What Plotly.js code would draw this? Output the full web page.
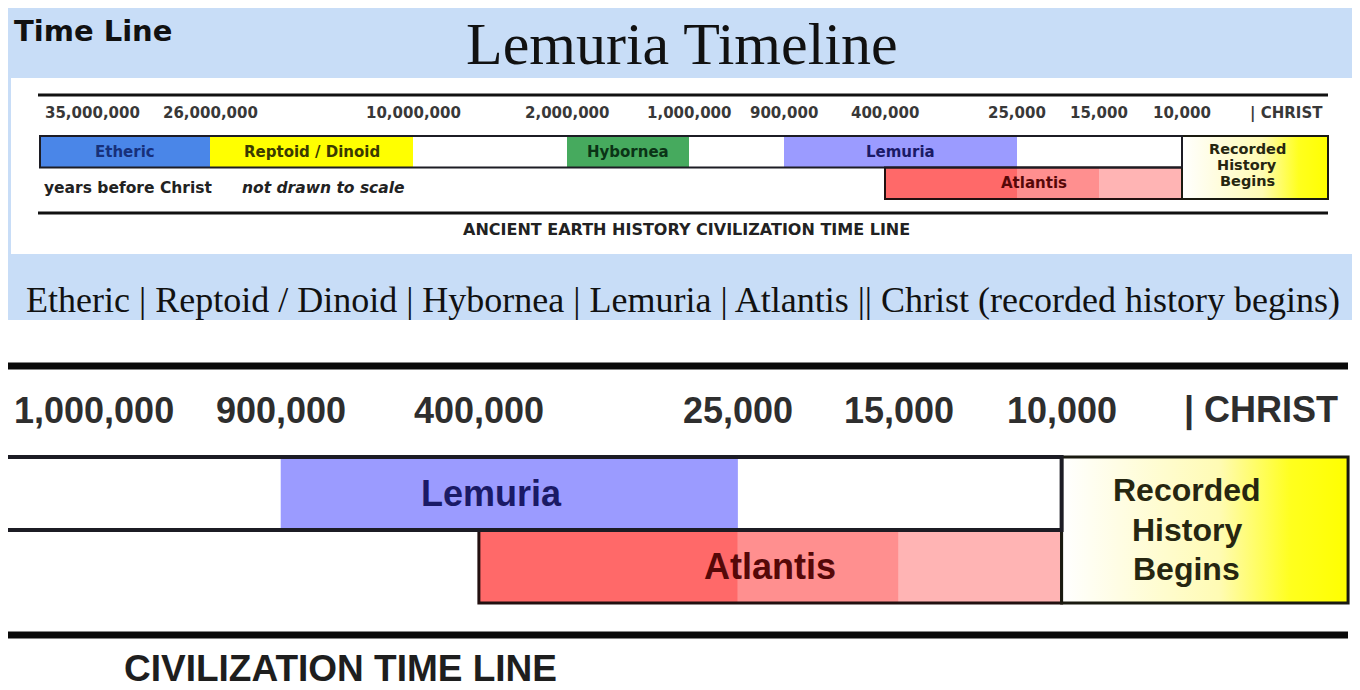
<!DOCTYPE html>
<html>
<head>
<meta charset="utf-8">
<script src="https://cdn.plot.ly/plotly-3.0.1.min.js"></script>
<style>html,body{margin:0;padding:0;background:#fff;overflow:hidden}#chart{width:1360px;height:690px}</style>
</head>
<body>
<div id="chart"></div>
<script>
// ================= DATA =================
const milestones = ['35,000,000','26,000,000','10,000,000','2,000,000','1,000,000','900,000','400,000','25,000','15,000','10,000','CHRIST'];
const eras       = ['Etheric','Reptoid / Dinoid','Hybornea','Lemuria','Atlantis','Recorded History Begins'];
const eraStart   = ['35,000,000','26,000,000','2,000,000','900,000','400,000','10,000'];
const eraEnd     = ['26,000,000','10,000,000','1,000,000','25,000','10,000','CHRIST'];
const eraLaneFrom = [1,1,1,1,2,1];
const eraLaneTo   = [1,1,1,1,2,2];
const atlantisPhaseEdges = ['400,000','25,000','15,000','10,000'];
const captionParts = ['Etheric','Reptoid / Dinoid','Hybornea','Lemuria','Atlantis','Christ (recorded history begins)'];

// ================= LAYOUT / STYLE =================
const W = 1360, H = 690;
const px = x => x / W, py = y => 1 - y / H;
// slot positions of each milestone along the (not-to-scale) time axis
const slotPos = [0,170,373,527,649,744,845,977,1059,1142,1288];
const pos = m => slotPos[milestones.indexOf(m)];
const mIdx = m => milestones.indexOf(m);

const eraColors     = ['#4a86e8','#ffff00','#46aa5e','#9b9bff',null,null];
const eraTextColors = ['#17307a','#3a3a00','#0b3316','#1a1a66','#560808','#262610'];
const phaseColors   = ['#ff6969','#ff8f8f','#ffb4b4'];
const recordedScale = [[0,'#ffffff'],[0.2,'#fffde4'],[0.55,'#fffbb4'],[0.8,'#ffff1e'],[1,'#ffff00']];

const panels = [
  { xa:'x', ya:'y', xaxis:'xaxis', yaxis:'yaxis',
    xrange:[-5,1293], xdom:[35,1333], yrange:[2.6,0.4], ydom:[132.85,202.15],
    fam:'DejaVu Sans, Verdana, sans-serif', tickSize:15, tickY:113, firstTick:0,
    tickColor:'#383838', labelSize:15, recSize:14.5, recY:[149,165,181], recShift:-8,
    trackW:2, outlineW:2 },
  { xa:'x2', ya:'y2', xaxis:'xaxis2', yaxis:'yaxis2',
    xrange:[605,1290], xdom:[8,1352], yrange:[2.6,0.4], ydom:[449.7,610.3],
    fam:'Liberation Sans, Arial, sans-serif', tickSize:36, tickY:410, firstTick:4,
    tickColor:'#2e2e2e', labelSize:36, recSize:32, recY:[490,530,569], recShift:-18,
    trackW:4, outlineW:3 }
];

const traces = [];
const shapes = [];
const annotations = [];

// page frame
shapes.push({type:'rect', xref:'paper', yref:'paper', x0:px(8), x1:px(1352), y0:py(320), y1:py(8),
  fillcolor:'#c8ddf7', line:{width:0}, layer:'below'});
shapes.push({type:'rect', xref:'paper', yref:'paper', x0:px(11), x1:px(1352), y0:py(254), y1:py(78),
  fillcolor:'#ffffff', line:{width:0}, layer:'below'});
[95,213].forEach(y => shapes.push({type:'line', xref:'paper', yref:'paper', x0:px(38), x1:px(1328),
  y0:py(y), y1:py(y), line:{color:'#111', width:3}, layer:'below'}));
[366,635].forEach(y => shapes.push({type:'line', xref:'paper', yref:'paper', x0:px(8), x1:px(1348),
  y0:py(y), y1:py(y), line:{color:'#0a0a0a', width:7}, layer:'below'}));

const layoutAxes = {};
panels.forEach(p => {
  layoutAxes[p.xaxis] = {domain:[px(p.xdom[0]), px(p.xdom[1])], range:p.xrange, visible:false, fixedrange:true, anchor:p.ya};
  layoutAxes[p.yaxis] = {domain:[py(p.ydom[1]), py(p.ydom[0])], range:p.yrange, visible:false, fixedrange:true, anchor:p.xa};

  // single-lane era bars (each panel shows the eras that begin at or after its first milestone)
  const idx = [0,1,2,3].filter(i => mIdx(eraStart[i]) >= p.firstTick);
  traces.push({type:'bar', orientation:'h', xaxis:p.xa, yaxis:p.ya,
    y: idx.map(i => eraLaneFrom[i]), base: idx.map(i => pos(eraStart[i])),
    x: idx.map(i => pos(eraEnd[i]) - pos(eraStart[i])), width: idx.map(() => 1),
    marker:{color: idx.map(i => eraColors[i]), line:{width:0}}, hoverinfo:'skip', showlegend:false});

  // Atlantis phases
  const ph = [0,1,2];
  traces.push({type:'bar', orientation:'h', xaxis:p.xa, yaxis:p.ya,
    y: ph.map(() => eraLaneFrom[4]), base: ph.map(k => pos(atlantisPhaseEdges[k])),
    x: ph.map(k => pos(atlantisPhaseEdges[k+1]) - pos(atlantisPhaseEdges[k])), width: ph.map(() => 1),
    marker:{color: phaseColors, line:{width:0}}, hoverinfo:'skip', showlegend:false});
  // Atlantis outline
  traces.push({type:'bar', orientation:'h', xaxis:p.xa, yaxis:p.ya,
    y:[eraLaneFrom[4]], base:[pos(eraStart[4])], x:[pos(eraEnd[4]) - pos(eraStart[4])], width:[1],
    marker:{color:'rgba(0,0,0,0)', line:{color:'#221010', width:p.outlineW}}, hoverinfo:'skip', showlegend:false});

  // Recorded history box with gradient
  const rs = pos(eraStart[5]), re = pos(eraEnd[5]);
  const ly0 = eraLaneFrom[5] - 0.5, ly1 = eraLaneTo[5] + 0.5;
  traces.push({type:'scatter', mode:'lines', xaxis:p.xa, yaxis:p.ya,
    x:[rs, re, re, rs, rs], y:[ly0, ly0, ly1, ly1, ly0], fill:'toself',
    fillgradient:{type:'horizontal', colorscale:recordedScale},
    line:{color:'#1a1a10', width:p.outlineW}, hoverinfo:'skip', showlegend:false});

  // lane-1 track outline (from first milestone to start of recorded history)
  shapes.push({type:'rect', xref:p.xa, yref:p.ya, x0:pos(milestones[0]), x1:pos(eraStart[5]),
    y0:0.5, y1:1.5, line:{color:'#1c1c24', width:p.trackW}, fillcolor:'rgba(0,0,0,0)', layer:'above'});

  // milestone labels
  for (let i = p.firstTick; i < milestones.length; i++) {
    const last = i === milestones.length - 1;
    const first = i === 0;
    annotations.push({xref:p.xa, yref:'paper', x:pos(milestones[i]), y:py(p.tickY),
      text:'<b>' + (last ? '| ' + milestones[i] : milestones[i]) + '</b>', showarrow:false,
      xanchor: first ? 'left' : (last ? 'right' : 'center'), yanchor:'middle',
      xshift: first ? 3 : (last ? (p.xa === 'x' ? -3 : -8) : 0),
      font:{family:p.fam, size:p.tickSize, color:p.tickColor}});
  }

  // era labels
  for (let i = 0; i < 5; i++) {
    if (mIdx(eraStart[i]) < p.firstTick) continue;
    const c = (pos(eraStart[i]) + pos(eraEnd[i])) / 2;
    annotations.push({xref:p.xa, yref:p.ya, x:c, y:eraLaneFrom[i], text:'<b>' + eras[i] + '</b>',
      showarrow:false, xanchor:'center', yanchor:'middle', xshift: (p.xa === 'x2' && i === 3) ? -18 : 0,
      font:{family:p.fam, size:p.labelSize, color:eraTextColors[i]}});
  }
  const rc = (rs + re) / 2;
  eras[5].split(' ').forEach((w, k) => annotations.push({xref:p.xa, yref:'paper', x:rc, y:py(p.recY[k]),
    text:'<b>' + w + '</b>', showarrow:false, xanchor:'center', yanchor:'middle', xshift:p.recShift,
    font:{family:p.fam, size:p.recSize, color:eraTextColors[5]}}));
});

// static texts
const sans = 'DejaVu Sans, Verdana, sans-serif';
annotations.push({xref:'paper', yref:'paper', x:px(12), y:py(31), xanchor:'left', yanchor:'middle', showarrow:false,
  text:'<b>Time Line</b>', font:{family:sans, size:29, color:'#111'}});
annotations.push({xref:'paper', yref:'paper', x:px(682), y:py(44), xanchor:'center', yanchor:'middle', showarrow:false,
  text:'Lemuria Timeline', font:{family:'Liberation Serif, Times New Roman, serif', size:60, color:'#111'}});
annotations.push({xref:'paper', yref:'paper', x:px(42), y:py(188), xanchor:'left', yanchor:'middle', showarrow:false,
  text:'<b>years before Christ</b>', font:{family:sans, size:15.5, color:'#222'}});
annotations.push({xref:'paper', yref:'paper', x:px(240), y:py(188), xanchor:'left', yanchor:'middle', showarrow:false,
  text:'<b><i>not drawn to scale</i></b>', font:{family:sans, size:15.5, color:'#222'}});
annotations.push({xref:'paper', yref:'paper', x:px(686), y:py(230), xanchor:'center', yanchor:'middle', showarrow:false,
  text:'<b>ANCIENT EARTH HISTORY CIVILIZATION TIME LINE</b>', font:{family:sans, size:16, color:'#222'}});
annotations.push({xref:'paper', yref:'paper', x:px(683), y:py(300), xanchor:'center', yanchor:'middle', showarrow:false,
  text: captionParts.slice(0,5).join(' | ') + ' || ' + captionParts[5],
  font:{family:'Liberation Serif, Times New Roman, serif', size:36, color:'#111'}});
annotations.push({xref:'paper', yref:'paper', x:px(340), y:0, xanchor:'center', yanchor:'bottom', showarrow:false,
  borderpad:0, text:'<b>CIVILIZATION TIME LINE</b>', font:{family:'Liberation Sans, Arial, sans-serif', size:37, color:'#1e1e1e'}});

const layout = Object.assign({
  width:W, height:H, margin:{l:0,r:0,t:0,b:0,pad:0},
  paper_bgcolor:'#ffffff', plot_bgcolor:'rgba(0,0,0,0)',
  barmode:'overlay', showlegend:false, hovermode:false,
  shapes:shapes, annotations:annotations
}, layoutAxes);

Plotly.newPlot('chart', traces, layout, {displayModeBar:false, staticPlot:true});
</script>
</body>
</html>
